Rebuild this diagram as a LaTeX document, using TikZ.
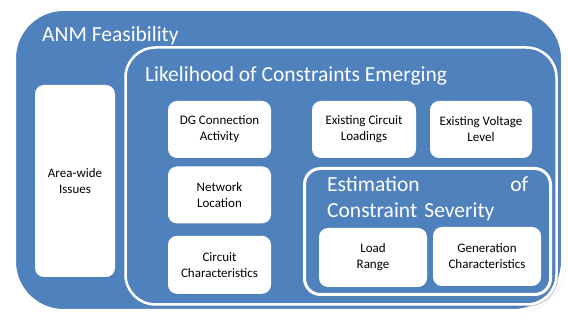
\documentclass[tikz,border=0pt]{standalone}
\usepackage{fontspec}
\setmainfont{Carlito}
\usetikzlibrary{positioning, shadows}
\definecolor{anmblue}{RGB}{79,129,189}

\begin{document}
\begin{tikzpicture}[x=1pt, y=-1pt,
  panel/.style={draw=white, fill=anmblue, inner sep=0pt,
    drop shadow={shadow xshift=2pt, shadow yshift=-2pt, opacity=0.35}},
  item/.style={fill=white, rounded corners=9pt, align=center, inner sep=0pt,
    font=\fontsize{13}{16}\selectfont},
  heading/.style={text=white, inner sep=0pt, font=\fontsize{21.5}{26}\selectfont}]
\useasboundingbox (0,0) rectangle (568,320);

% ANM feasibility (outer)
\node[panel, line width=5pt, rounded corners=50pt, minimum width=550pt, minimum height=303pt] (anm) at (288.5,160) {};
\node[heading, anchor=base west] (anmtitle) at (42,42) {ANM Feasibility};
\node[item, minimum width=80pt, minimum height=192pt] (area) at (75,181) {Area-wide\\Issues};

% Likelihood of constraints emerging
\node[panel, line width=2.5pt, rounded corners=30pt, minimum width=431pt, minimum height=257pt] (likely) at (341,176) {};
\node[heading, anchor=base west] (likelytitle) at (145,82) {Likelihood of Constraints Emerging};
\node[item, minimum width=103pt, minimum height=57pt] (dg) at (219.5,129.5) {DG Connection\\Activity};
\node[item, minimum width=103pt, minimum height=57pt, below=8pt of dg] (netloc) {Network\\Location};
\node[item, minimum width=103pt, minimum height=58pt, below=12pt of netloc] (circuit) {Circuit\\Characteristics};
\node[item, minimum width=104pt, minimum height=57pt] (loadings) at (364,129.5) {Existing Circuit\\Loadings};
\node[item, minimum width=102pt, minimum height=57pt] (voltage) at (481,129.5) {Existing Voltage\\Level};

% Estimation of constraint severity
\node[panel, line width=3pt, rounded corners=16pt, minimum width=246pt, minimum height=126pt] (severity) at (427.5,231.5) {};
\node[heading, anchor=north west, text width=201pt, align=left] (severitytitle) at (327,176) {Estimation\hfill of\\Constraint Severity};
\node[item, minimum width=108pt, minimum height=59pt] (loadrange) at (373,257.5) {Load\\Range};
\node[item, minimum width=108pt, minimum height=59pt] (generation) at (487,256.5) {Generation\\Characteristics};
\end{tikzpicture}
\end{document}
